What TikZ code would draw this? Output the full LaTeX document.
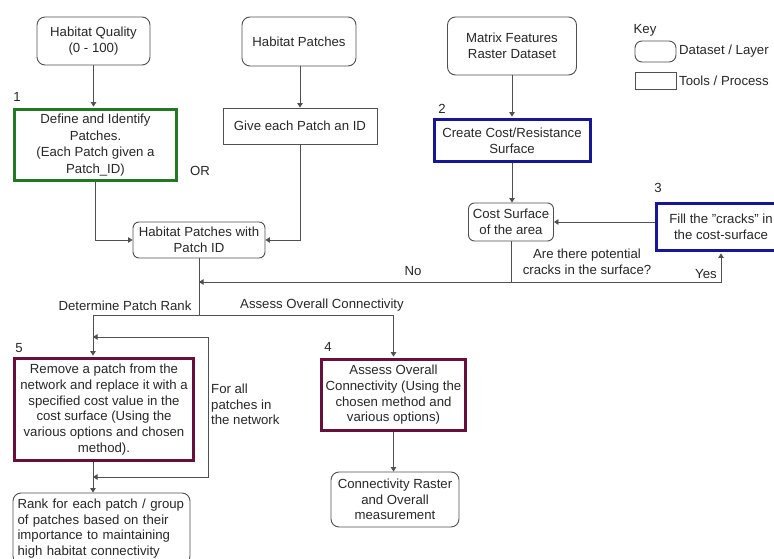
\documentclass[tikz,border=0pt]{standalone}
\usepackage{fontspec}
\setmainfont{Liberation Sans}
\usetikzlibrary{arrows.meta,calc}
\definecolor{lc}{RGB}{80,80,80}
\definecolor{tc}{RGB}{40,40,40}
\definecolor{gbox}{RGB}{35,120,35}
\definecolor{bbox}{RGB}{22,22,150}
\definecolor{mbox}{RGB}{105,15,60}
\begin{document}
\begin{tikzpicture}[x=1pt,y=-1pt, font=\fontsize{13.2}{15.7}\selectfont, text=tc,
  data/.style={draw=lc, line width=0.9pt, rounded corners=8pt, align=center, inner sep=0pt},
  tool/.style={draw=lc, line width=0.9pt, align=center, inner sep=0pt},
  stepbox/.style={draw, line width=3pt, align=center, inner sep=0pt},
  tip/.tip={Triangle[length=4.5pt,width=5.5pt]},
  ln/.style={draw=lc, line width=0.9pt},
  arr/.style={ln, -tip},
  lbl/.style={inner sep=0pt, align=center}]
\clip (0,0) rectangle (774,559);
\fill[white] (0,0) rectangle (774,559);

% datasets and tools
\node[data, minimum width=113pt, minimum height=48pt] (hq) at (93.5,41) {Habitat Quality\\(0 - 100)};
\node[data, minimum width=114pt, minimum height=49pt] (hp) at (299,41.5) {Habitat Patches};
\node[tool, minimum width=154pt, minimum height=36pt] (give) at (300,126) {Give each Patch an ID};
\node[stepbox, draw=gbox, minimum width=162pt, minimum height=71pt, font=\fontsize{13.2}{16.5}\selectfont] (define) at (95.5,145) {Define and Identify\\Patches.\\(Each Patch given a\\Patch\_ID)};
\node[data, rounded corners=6pt, minimum width=132pt, minimum height=36pt] (hpid) at (199,240) {Habitat Patches with\\Patch ID};
\node[data, minimum width=129pt, minimum height=58pt] (mf) at (512,46) {Matrix Features\\Raster Dataset};
\node[stepbox, draw=bbox, minimum width=156pt, minimum height=42pt] (create) at (512,140.5) {Create Cost/Resistance\\Surface};
\node[data, rounded corners=6pt, minimum width=85pt, minimum height=38pt] (cost) at (511,222) {Cost Surface\\of the area};
\node[stepbox, draw=bbox, minimum width=130pt, minimum height=47pt] (fill) at (721,227) {Fill the "cracks" in\\the cost-surface};
\node[stepbox, draw=mbox, minimum width=179pt, minimum height=102pt] (remove) at (104,409.5) {Remove a patch from the\\network and replace it with a\\specified cost value in the\\cost surface (Using the\\various options and chosen\\method).};
\node[stepbox, draw=mbox, minimum width=144pt, minimum height=71pt] (assess) at (393.5,395) {Assess Overall\\Connectivity (Using the\\chosen method and\\various options)};
\node[data, minimum width=128pt, minimum height=55pt] (connr) at (395,499.5) {Connectivity Raster\\and Overall\\measurement};
\node[data, align=left, text width=168pt, minimum width=177pt, minimum height=71pt] (rank) at (101.5,528.5) {Rank for each patch / group\\of patches based on their\\importance to maintaining\\high habitat connectivity};

% key
\node[lbl] (key) at (645,30) {Key};
\node[data, rounded corners=7pt, minimum width=41pt, minimum height=21pt] (keyd) at (655.5,51.5) {};
\node[tool, minimum width=41pt, minimum height=17pt] (keyt) at (655.5,80.5) {};
\node[lbl, anchor=west] (keydl) at (679,51.5) {Dataset / Layer};
\node[lbl, anchor=west] (keytl) at (679,81) {Tools / Process};

% numbers and labels
\node[lbl] (n1) at (17,97) {1};
\node[lbl] (n2) at (442,109) {2};
\node[lbl] (n3) at (658,188) {3};
\node[lbl] (n4) at (328,347) {4};
\node[lbl] (n5) at (19,348) {5};
\node[lbl] (or) at (200,171) {OR};
\node[lbl] (no) at (413,271) {No};
\node[lbl] (yes) at (706,274) {Yes};
\node[lbl] (q) at (587,261.5) {Are there potential\\cracks in the surface?};
\node[lbl] (dpr) at (125,306) {Determine Patch Rank};
\node[lbl] (aoc) at (322,305) {Assess Overall Connectivity};
\node[lbl, align=left, anchor=west] (forall) at (211,404.5) {For all\\patches in\\the network};

% connectors
\coordinate (split) at (199,315);
\coordinate (colL) at (93,315);
\coordinate (j) at (511,282);
\coordinate (lpA) at (93,477);
\coordinate (lpB) at (93,337);
\coordinate (lpC) at (208,477);
\coordinate (lpD) at (208,337);

\draw[arr, shorten >=1.4pt] (hq.south) -- (hq.south |- define.north);
\draw[arr] (hp.south -| give.north) -- (give.north);
\draw[arr] (define.south) |- (hpid.west);
\draw[arr] (give.south) |- (hpid.east);
\draw[arr, shorten >=1.4pt] (mf.south) -- (create.north);
\draw[arr] (create.south) -- (create.south |- cost.north);
\draw[arr] (fill.west |- cost.east) -- (cost.east);
\draw[ln] (cost.south) -- (j);
\draw[arr] (j) -- (hpid.south |- j);
\draw[arr, shorten >=1.4pt] (j) -| (fill.south);
\draw[ln] (hpid.south) -- (split) -- (colL);
\draw[arr, shorten >=1.4pt] (colL) -- (colL |- remove.north);
\draw[arr, shorten >=1.4pt] (split) -| (assess.north);
\draw[arr] (assess.south) -- (assess.south |- connr.north);
\draw[arr] (colL |- remove.south) -- (colL |- rank.north);
\draw[ln, tip-tip] (lpA) -- (lpC) -- (lpD) -- (lpB);
\end{tikzpicture}
\end{document}
